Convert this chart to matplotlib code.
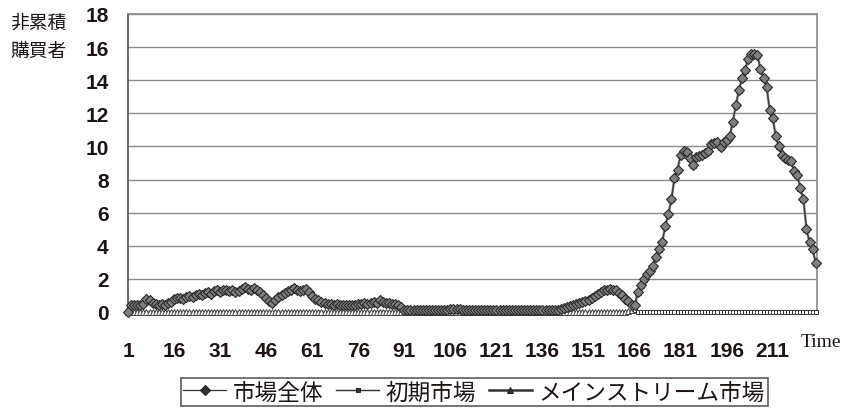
import numpy as np
import matplotlib
matplotlib.use("Agg")
import matplotlib.pyplot as plt

# non-cumulative buyers per period, early market and mainstream market
time = np.arange(1, 226)

early_market = [
    0, 0.45, 0.45, 0.45, 0.45, 0.5, 0.8, 0.75, 0.55, 0.5, 0.45, 0.5, 0.45, 0.55, 0.6,
    0.8, 0.85, 0.85, 0.8, 0.9, 0.95, 0.9, 1.0, 1.1, 1.0, 1.15, 1.2, 1.1, 1.25, 1.3,
    1.2, 1.3, 1.35, 1.25, 1.3, 1.2, 1.25, 1.4, 1.5, 1.4, 1.35, 1.45, 1.3, 1.2, 1.0,
    0.85, 0.65, 0.55, 0.7, 0.9, 1.0, 1.15, 1.25, 1.35, 1.45, 1.3, 1.25, 1.35, 1.4, 1.2,
    0.95, 0.8, 0.7, 0.6, 0.55, 0.5, 0.5, 0.45, 0.5, 0.45, 0.45, 0.45, 0.4, 0.45, 0.45,
    0.5, 0.5, 0.55, 0.5, 0.55, 0.6, 0.55, 0.75, 0.6, 0.55, 0.55, 0.5, 0.5, 0.45, 0.3,
    0.15, 0.15, 0.15, 0.15, 0.15, 0.15, 0.15, 0.15, 0.15, 0.15, 0.15, 0.15, 0.15, 0.15, 0.15,
    0.2, 0.2, 0.2, 0.2, 0.15, 0.1, 0.1, 0.1, 0.1, 0.1, 0.1, 0.1, 0.1, 0.1, 0.1,
    0.1, 0.1, 0.1, 0.1, 0.1, 0.1, 0.1, 0.1, 0.1, 0.1, 0.1, 0.1, 0.1, 0.1, 0.1,
    0.1, 0.1, 0.1, 0.1, 0.1, 0.15, 0.2, 0.25, 0.3, 0.35, 0.4, 0.5, 0.55, 0.6, 0.65,
    0.75, 0.85, 0.95, 1.1, 1.2, 1.3, 1.35, 1.4, 1.35, 1.3, 1.15, 1.0, 0.8, 0.6, 0.35,
    0.15, 0, 0, 0, 0, 0, 0, 0, 0, 0, 0, 0, 0, 0, 0,
    0, 0, 0, 0, 0, 0, 0, 0, 0, 0, 0, 0, 0, 0, 0,
    0, 0, 0, 0, 0, 0, 0, 0, 0, 0, 0, 0, 0, 0, 0,
    0, 0, 0, 0, 0, 0, 0, 0, 0, 0, 0, 0, 0, 0, 0,
]

mainstream_market = [0] * 162 + [
    0.0, 0.05, 0.1, 0.25,
    1.2, 1.6, 2.0, 2.3, 2.5, 2.8, 3.3, 3.8, 4.2, 5.2, 5.9, 6.8, 8.1, 8.6,
    9.5, 9.75, 9.65, 9.3, 8.9, 9.35, 9.4, 9.45, 9.6, 9.7,
    10.15, 10.2, 10.25, 9.95, 10.25, 10.4, 10.6, 11.5, 12.5, 13.4,
    14.1, 14.6, 15.3, 15.6, 15.6, 15.5, 14.7, 14.1, 13.6, 12.2,
    11.7, 10.6, 10.0, 9.5, 9.3, 9.2, 9.1, 8.5, 8.3, 7.5,
    6.8, 5.0, 4.2, 3.8, 2.95,
]

total_market = np.array(early_market) + np.array(mainstream_market)

y_ticks = list(range(0, 19, 2))
x_ticks = list(range(1, 212, 15))

JP = ["Noto Sans CJK JP", "DejaVu Sans"]
INK = "#1e1414"

fig = plt.figure(figsize=(8.48, 4.14), dpi=100)
ax = fig.add_axes([0.151, 0.244, 0.812, 0.720])

ax.plot(time, mainstream_market, color="#8c8c8c", lw=1.8, marker="^", ms=4.2,
        mfc="white", mec="#444444", mew=0.7, zorder=3, clip_on=False,
        label="メインストリーム市場")
ax.plot(time, early_market, color="#444444", lw=1.0, marker="s", ms=3.4,
        mfc="white", mec="#333333", mew=0.7, zorder=4, clip_on=False,
        label="初期市場")
ax.plot(time, total_market, color="#3a3a3a", lw=0.9, marker="D", ms=5.0,
        mfc="#808080", mec="#2a2a2a", mew=0.8, zorder=5, clip_on=False,
        label="市場全体")

ax.set_xlim(1, 225.3)
ax.set_ylim(0, 18)
ax.set_yticks(y_ticks)
ax.set_xticks(x_ticks)
ax.grid(axis="y", color="#8a8a8a", lw=1.0)
ax.set_axisbelow(True)
for side in ("top", "right", "bottom"):
    ax.spines[side].set_color("#8a8a8a")
    ax.spines[side].set_linewidth(1.2)
ax.spines["left"].set_color("#555555")
ax.spines["left"].set_linewidth(1.2)
ax.tick_params(axis="y", length=0, pad=14, labelsize=15, labelcolor=INK)
ax.tick_params(axis="x", length=0, pad=21, labelsize=15, labelcolor=INK)
for lab in ax.get_xticklabels() + ax.get_yticklabels():
    lab.set_family("Liberation Sans")
    lab.set_fontweight("bold")

fig.text(0.012, 0.91, "非累積\n購買者", family=JP, fontsize=13.5, color=INK,
         ha="left", va="center", linespacing=1.45)
fig.text(0.968, 0.172, "Time", family="Liberation Serif", fontsize=14,
         color=INK, ha="center", va="center")

handles, labels = ax.get_legend_handles_labels()
order = [2, 1, 0]
leg = fig.legend([handles[i] for i in order], [labels[i] for i in order],
                 loc="center", bbox_to_anchor=(0.559, 0.051), ncol=3,
                 prop={"family": JP, "size": 16.3}, frameon=True, fancybox=False,
                 edgecolor="#333333", handlelength=1.9, handletextpad=0.3,
                 columnspacing=0.55, borderpad=0.12, labelcolor=INK)
leg.get_frame().set_linewidth(1.2)
# legend keys drawn with solid dark markers
for h in leg.legend_handles:
    h.set_color("#333333")
    h.set_markerfacecolor("#333333")
    h.set_markeredgecolor("#222222")

fig.savefig("out.png", dpi=100, facecolor="white")
